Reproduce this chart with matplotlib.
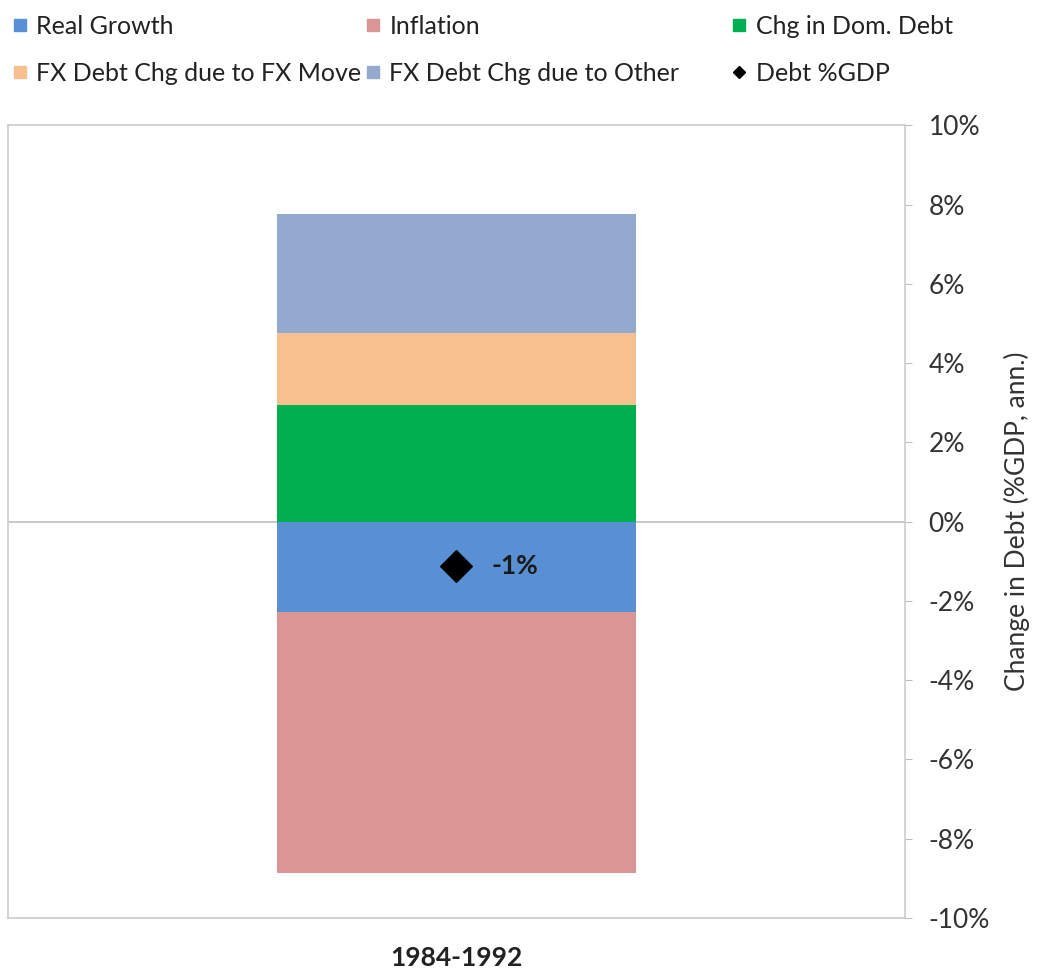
import numpy as np
import matplotlib.pyplot as plt
from matplotlib.lines import Line2D

plt.rcParams['font.family'] = ['Lato', 'DejaVu Sans']

# data (% of GDP, annualised)
period = ["1984-1992"]
real_growth = [-2.27]
inflation = [-6.6]
dom_debt = [2.93]
fx_move = [1.82]
fx_other = [3.0]
debt_gdp = [-1.13]
debt_label = ["-1%"]

colors = {
    "Real Growth": "#5990D3",
    "Inflation": "#D99694",
    "Chg in Dom. Debt": "#00B050",
    "FX Debt Chg due to FX Move": "#F7C08F",
    "FX Debt Chg due to Other": "#93AACE",
}

fig = plt.figure(figsize=(10.37, 9.71), dpi=100)
ax = fig.add_axes([0.0077, 0.0546, 0.8650, 0.8164])

x = np.arange(len(period))
w = 0.4

# negative stack
ax.bar(x, real_growth, w, color=colors["Real Growth"])
ax.bar(x, inflation, w, bottom=real_growth, color=colors["Inflation"])
# positive stack
ax.bar(x, dom_debt, w, color=colors["Chg in Dom. Debt"])
b2 = np.array(dom_debt)
ax.bar(x, fx_move, w, bottom=b2, color=colors["FX Debt Chg due to FX Move"])
b3 = b2 + np.array(fx_move)
ax.bar(x, fx_other, w, bottom=b3, color=colors["FX Debt Chg due to Other"])

ax.scatter(x, debt_gdp, marker="D", s=260, color="black", zorder=5)
for xi, yi, lab in zip(x, debt_gdp, debt_label):
    ax.annotate(lab, (xi, yi), xytext=(25, 0), textcoords="offset points",
                fontsize=19, fontweight="bold", color="#1a1a1a", va="center")

ax.axhline(0, color="#bfbfbf", lw=1.2, zorder=0)

ax.set_xlim(-0.5, 0.5)
ax.set_ylim(-10, 10)
ax.set_yticks(np.arange(-10, 11, 2))
ax.set_yticklabels([f"{v}%" for v in range(-10, 11, 2)])
ax.yaxis.tick_right()
ax.yaxis.set_label_position("right")
ax.tick_params(axis="y", labelsize=19, colors="#bfbfbf", labelcolor="#333333",
               length=5, pad=12)
ax.set_ylabel("Change in Debt (%GDP, ann.)", fontsize=19, color="#333333",
              labelpad=10)
ax.set_xticks(x)
ax.set_xticklabels(period, fontsize=19, fontweight="bold", color="#222222")
ax.tick_params(axis="x", length=0, pad=20)
for s in ax.spines.values():
    s.set_color("#cccccc")
    s.set_linewidth(1.2)

def sq(c):
    return Line2D([], [], marker="s", color=c, linestyle="none", markersize=8)

cols = [
    [("Real Growth", sq(colors["Real Growth"])),
     ("FX Debt Chg due to FX Move", sq(colors["FX Debt Chg due to FX Move"]))],
    [("Inflation", sq(colors["Inflation"])),
     ("FX Debt Chg due to Other", sq(colors["FX Debt Chg due to Other"]))],
    [("Chg in Dom. Debt", sq(colors["Chg in Dom. Debt"])),
     ("Debt %GDP", Line2D([], [], marker="D", color="black", linestyle="none",
                          markersize=6))],
]
for xpos, col in zip([-0.004, 0.337, 0.690], cols):
    fig.legend([h for _, h in col], [l for l, _ in col], loc="upper left",
               bbox_to_anchor=(xpos, 1.0), frameon=False, fontsize=18,
               handlelength=0.7, handletextpad=0.3, labelspacing=0.95,
               borderaxespad=0.2, labelcolor="#222222")

fig.savefig("out.png", dpi=100)
